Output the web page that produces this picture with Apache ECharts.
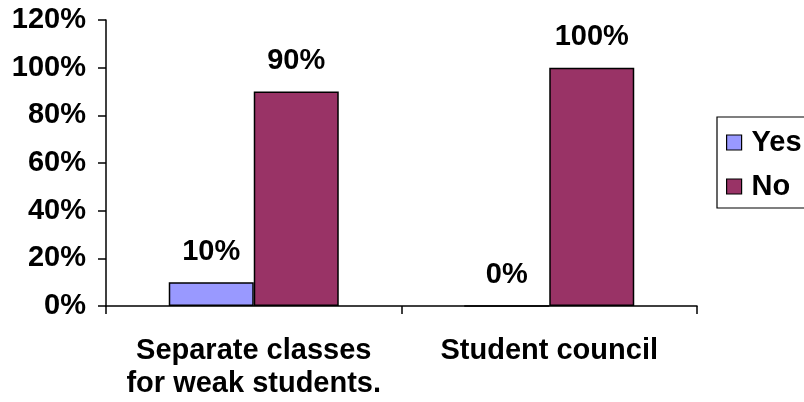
<!DOCTYPE html>
<html>
<head>
<meta charset="utf-8">
<script src="https://cdn.jsdelivr.net/npm/echarts@6/dist/echarts.min.js"></script>
<style>
html,body{margin:0;padding:0;background:#fff;}
#chart{width:804px;height:402px;}
</style>
</head>
<body>
<div id="chart"></div>
<script>
const categories = ['Separate classes\nfor weak students.', 'Student council'];
const seriesNames = ['Yes', 'No'];
const yesValues = [10, 0];
const noValues = [90, 100];
const yTicks = { min: 0, max: 120, interval: 20 };

const FONT = '"Liberation Sans", Arial, sans-serif';
const FS = 29;

const chart = echarts.init(document.getElementById('chart'), null, { renderer: 'canvas' });
const labelStyle = {
  show: true,
  position: 'top',
  distance: 16,
  formatter: '{c}%',
  color: '#000',
  fontFamily: FONT,
  fontWeight: 'bold',
  fontSize: FS
};
chart.setOption({
  animation: false,
  backgroundColor: '#fff',
  grid: { left: 106, right: 107, top: 20, bottom: 96, containLabel: false },
  legend: {
    orient: 'vertical',
    left: 717,
    top: 117,
    data: seriesNames,
    backgroundColor: '#fff',
    borderColor: '#000',
    borderWidth: 1.2,
    borderRadius: 0,
    padding: [11, 24, 7, 9],
    itemGap: 15,
    itemWidth: 15,
    itemHeight: 15,
    icon: 'rect',
    itemStyle: { borderColor: '#000', borderWidth: 1.2 },
    textStyle: { color: '#000', fontFamily: FONT, fontWeight: 'bold', fontSize: FS, padding: [0, 0, 0, 5] }
  },
  xAxis: {
    type: 'category',
    data: categories,
    axisLine: { lineStyle: { color: '#000', width: 1.5 } },
    axisTick: { show: true, length: 8, lineStyle: { color: '#000', width: 1.5 } },
    axisLabel: { color: '#000', fontFamily: FONT, fontWeight: 'bold', fontSize: FS, lineHeight: 33, margin: 28, interval: 0 },
    splitLine: { show: false }
  },
  yAxis: {
    type: 'value',
    min: yTicks.min,
    max: yTicks.max,
    interval: yTicks.interval,
    axisLine: { show: true, lineStyle: { color: '#000', width: 1.5 } },
    axisTick: { show: true, length: 8, lineStyle: { color: '#000', width: 1.5 } },
    axisLabel: { color: '#000', fontFamily: FONT, fontWeight: 'bold', fontSize: FS, margin: 20, formatter: '{value}%' },
    splitLine: { show: false }
  },
  series: [
    {
      name: seriesNames[0], type: 'bar', data: yesValues,
      barWidth: 85, barGap: '0%',
      itemStyle: { color: '#9999FF', borderColor: '#000', borderWidth: 1.5 },
      label: labelStyle
    },
    {
      name: seriesNames[1], type: 'bar', data: noValues,
      barWidth: 85, barGap: '0%',
      itemStyle: { color: '#993366', borderColor: '#000', borderWidth: 1.5 },
      label: labelStyle
    }
  ]
});
</script>
</body>
</html>
